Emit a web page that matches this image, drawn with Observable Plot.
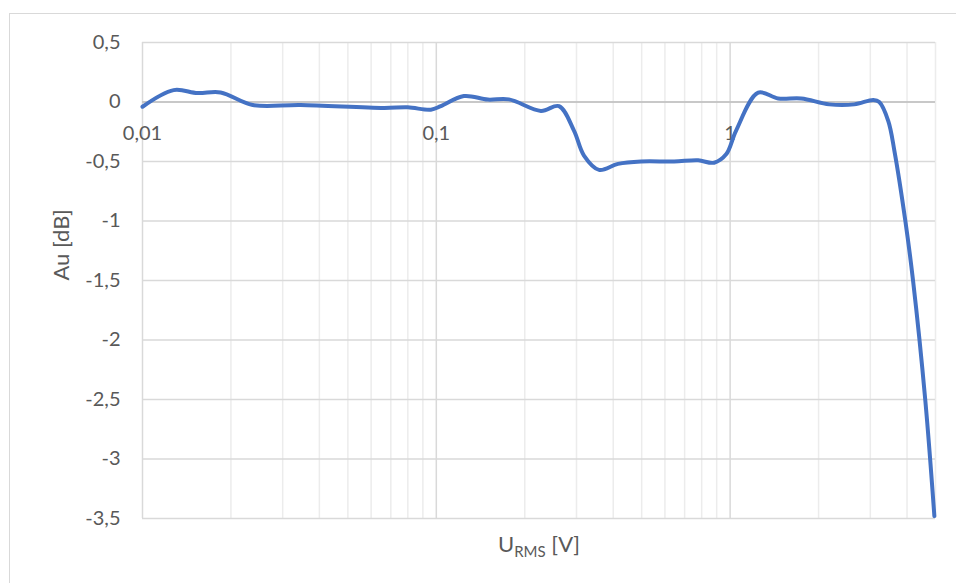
<!DOCTYPE html>
<html>
<head>
<meta charset="utf-8">
<script src="https://cdn.jsdelivr.net/npm/d3@7"></script>
<script src="https://cdn.jsdelivr.net/npm/@observablehq/plot@0.6"></script>
<style>
  html, body { margin: 0; padding: 0; background: #fff; }
  #wrap { position: relative; width: 956px; height: 583px; overflow: hidden; }
  #frame { position: absolute; left: 9px; top: 13px; right: -10px; bottom: -10px;
           border-top: 1.5px solid #d9d9d9; border-left: 1.5px solid #d9d9d9; pointer-events: none; }
</style>
</head>
<body>
<div id="wrap"><div id="frame"></div></div>
<script>
// Measured input voltage U_RMS [V]
const uRms = [0.01, 0.01276, 0.0154, 0.01845, 0.02371, 0.03453, 0.06624, 0.08, 0.0958, 0.1036,
  0.1241, 0.1498, 0.1766, 0.227, 0.2615, 0.2941, 0.3181, 0.3579, 0.4153, 0.4976,
  0.6446, 0.778, 0.882, 0.9691, 1.048, 1.246, 1.457, 1.746, 2.174, 2.646,
  3.071, 3.218, 3.454, 3.623, 3.948, 4.193, 4.617, 4.956];
// Gain Au [dB]
const gainDb = [-0.04, 0.10, 0.075, 0.08, -0.025, -0.025, -0.05, -0.045, -0.065, -0.035,
  0.05, 0.02, 0.022, -0.075, -0.035, -0.24, -0.45, -0.57, -0.52, -0.50,
  -0.50, -0.49, -0.51, -0.44, -0.24, 0.078, 0.03, 0.03, -0.02, -0.02,
  0.017, 0.0, -0.16, -0.41, -1.0, -1.5, -2.51, -3.48];

const xMajor = [0.01, 0.1, 1];
const xMinor = [0.02, 0.03, 0.04, 0.05, 0.06, 0.07, 0.08, 0.09,
  0.2, 0.3, 0.4, 0.5, 0.6, 0.7, 0.8, 0.9, 2, 3, 4, 5];
const yTicks = [0.5, 0, -0.5, -1, -1.5, -2, -2.5, -3, -3.5];
const yTitle = "Au [dB]";

const data = uRms.map((u, i) => ({u, g: gainDb[i]}));
const fmt = d => String(d).replace(".", ",");

const chart = Plot.plot({
  width: 956,
  height: 583,
  marginLeft: 142,
  marginRight: 21,
  marginTop: 42,
  marginBottom: 65,
  style: {fontFamily: "Lato, 'Open Sans', sans-serif", fontSize: "20px", color: "#595959", background: "transparent"},
  x: {type: "log", domain: [0.01, 5], axis: null},
  y: {domain: [-3.5, 0.5], axis: null},
  marks: [
    Plot.ruleX(xMinor, {stroke: "#ececec", strokeWidth: 1.5}),
    Plot.ruleY(yTicks, {stroke: "#d9d9d9", strokeWidth: 1.5}),
    Plot.ruleX(xMajor, {stroke: "#d9d9d9", strokeWidth: 1.5}),
    Plot.ruleY([0], {stroke: "#bfbfbf", strokeWidth: 1.5}),
    Plot.axisY(yTicks, {tickSize: 0, tickPadding: 22, tickFormat: fmt, label: null, fontSize: 20}),
    Plot.text(xMajor, {x: d => d, y: () => 0, dy: 32, text: fmt, fill: "#595959", fontSize: 20}),
    Plot.text([yTitle], {frameAnchor: "left", dx: -81, rotate: -90, fill: "#595959", fontSize: 22}),
    Plot.line(data, {x: "u", y: "g", curve: "catmull-rom", stroke: "#4472C4", strokeWidth: 4, strokeLinecap: "round", strokeLinejoin: "round"})
  ]
});

// x-axis title with subscript
const svg = d3.select(chart);
const t = svg.append("text")
  .attr("x", 539).attr("y", 552)
  .attr("text-anchor", "middle")
  .attr("fill", "#595959")
  .style("font-family", "Lato, 'Open Sans', sans-serif")
  .style("font-size", "22px");
t.append("tspan").text("U");
t.append("tspan").attr("dy", 5).style("font-size", "15px").text("RMS");
t.append("tspan").attr("dy", -5).text(" [V]");

document.getElementById("wrap").prepend(chart);
chart.style.position = "absolute";
chart.style.left = "0";
chart.style.top = "0";
</script>
</body>
</html>
